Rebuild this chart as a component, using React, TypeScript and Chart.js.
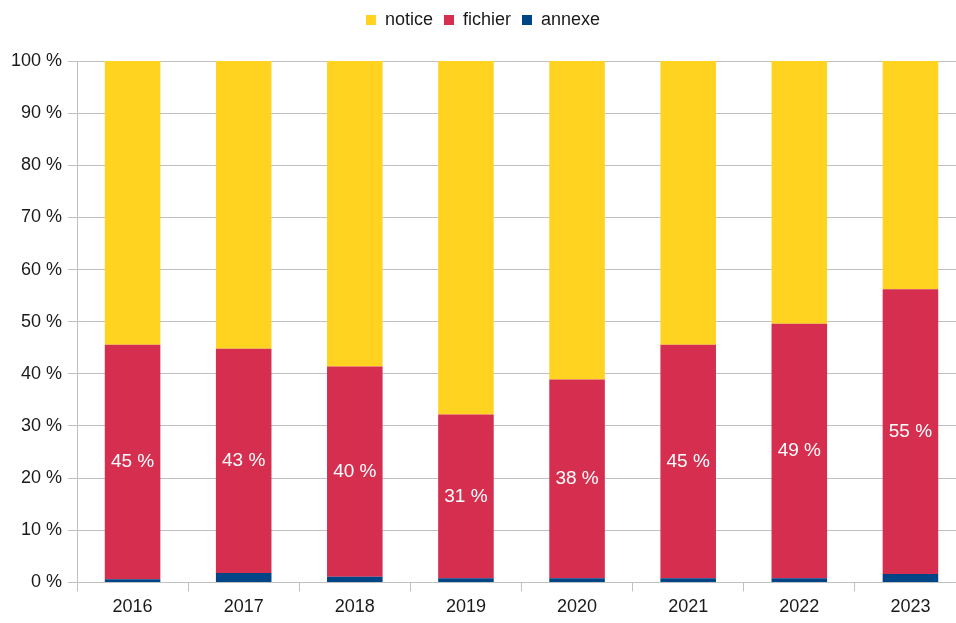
import React, { useEffect, useRef } from "react";
import { Chart, registerables } from "chart.js";

Chart.register(...registerables);

const years = ["2016", "2017", "2018", "2019", "2020", "2021", "2022", "2023"];
const annexe = [0.6, 1.8, 1.1, 0.8, 0.8, 0.8, 0.8, 1.6];
const fichier = [45.0, 43.0, 40.3, 31.4, 38.1, 44.8, 48.8, 54.6];
const notice = years.map((_, i) => 100 - annexe[i] - fichier[i]);
const yTicks = [0, 10, 20, 30, 40, 50, 60, 70, 80, 90, 100];

const FONT = "'Liberation Sans', Arial, sans-serif";

const labelPlugin = {
  id: "fichierLabels",
  afterDatasetsDraw(chart: any) {
    const ctx = chart.ctx;
    const meta = chart.getDatasetMeta(1);
    ctx.save();
    ctx.fillStyle = "#ffffff";
    ctx.font = `19px ${FONT}`;
    ctx.textAlign = "center";
    ctx.textBaseline = "middle";
    meta.data.forEach((bar: any, i: number) => {
      const v = chart.data.datasets[1].data[i] as number;
      const y = (bar.y + bar.base) / 2;
      ctx.fillText(`${Math.round(v)} %`, bar.x, y);
    });
    ctx.restore();
  },
};

const legendSpace = {
  id: "legendSpace",
  afterInit(chart: any) {
    const lg = chart.legend;
    if (!lg) return;
    const orig = lg.fit;
    lg.fit = function () {
      orig.call(this);
      this.height += 22;
    };
  },
};

export default function App() {
  const ref = useRef<HTMLCanvasElement | null>(null);
  useEffect(() => {
    if (!ref.current) return;
    const chart = new Chart(ref.current, {
      type: "bar",
      data: {
        labels: years,
        datasets: [
          { label: "annexe", data: annexe, backgroundColor: "#004586" },
          { label: "fichier", data: fichier, backgroundColor: "#d62e4e" },
          { label: "notice", data: notice, backgroundColor: "#ffd320" },
        ],
      },
      options: {
        animation: false,
        responsive: true,
        maintainAspectRatio: false,
        layout: { padding: { left: 0, right: 14, top: 0, bottom: 0 } },
        datasets: {
          bar: { barPercentage: 0.5, categoryPercentage: 1 },
        } as any,
        plugins: {
          tooltip: { enabled: false },
          legend: {
            position: "top",
            reverse: true,
            labels: {
              boxWidth: 10,
              boxHeight: 10,
              padding: 11,
              color: "#1a1a1a",
              font: { family: FONT, size: 18 },
            },
          },
        },
        scales: {
          x: {
            stacked: true,
            grid: {
              display: true,
              drawOnChartArea: false,
              offset: true,
              tickLength: 9,
              color: "#c0c0c0",
            },
            border: { display: true, color: "#c0c0c0" },
            ticks: {
              color: "#1a1a1a",
              font: { family: FONT, size: 18 },
              padding: 5,
            },
          },
          y: {
            stacked: true,
            min: 0,
            max: 100,
            afterFit: (s: any) => {
              s.width = 77;
            },
            afterBuildTicks: (s: any) => {
              s.ticks = yTicks.map((v) => ({ value: v }));
            },
            grid: { color: "#c0c0c0", tickLength: 9 },
            border: { display: true, color: "#c0c0c0" },
            ticks: {
              color: "#1a1a1a",
              font: { family: FONT, size: 18 },
              padding: 6,
              callback: (v: any) => `${v} %`,
            },
          },
        },
      },
      plugins: [labelPlugin, legendSpace],
    });
    return () => chart.destroy();
  }, []);

  return (
    <div style={{ position: "fixed", left: 0, top: 0, width: 956, height: 623, overflow: "hidden", background: "#fff" }}>
      <div style={{ position: "absolute", left: 0, top: 0, width: 980, height: 623 }}>
        <canvas ref={ref} />
      </div>
    </div>
  );
}
